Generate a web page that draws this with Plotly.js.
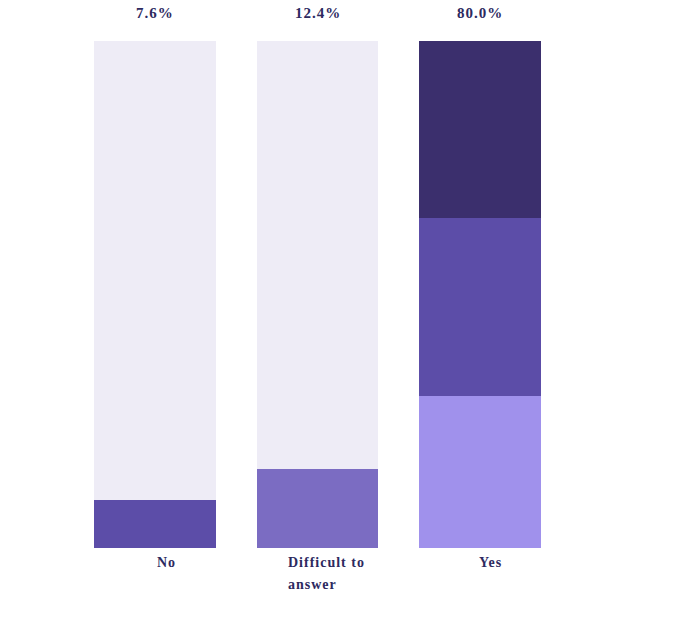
<!DOCTYPE html>
<html>
<head>
<meta charset="utf-8">
<script src="https://cdn.plot.ly/plotly-3.0.1.min.js"></script>
<style>
  html, body { margin: 0; padding: 0; background: #fff; }
  #chart { width: 676px; height: 644px; }
  .annotation-text { letter-spacing: 1px; }
</style>
</head>
<body>
<div id="chart"></div>
<script>
// Data
const categories = ["No", "Difficult to<br>answer", "Yes"];
const totalLabels = ["7.6%", "12.4%", "80.0%"];
const segmentBottom = [7.6, 12.4, 24.0];
const segmentMiddle = [0, 0, 28.0];
const segmentTop = [0, 0, 28.0];
const scaleMax = 80;

const bottomColors = ["#5c4da8", "#7b6cc2", "#a091ec"];
const middleColor = "#5c4da8";
const topColor = "#3b2f6d";
const restColor = "#eeecf6";
const textColor = "#2d2a5f";

const xIdx = categories.map((c, i) => i);
const remainder = segmentBottom.map((v, i) => scaleMax - v - segmentMiddle[i] - segmentTop[i]);

const common = { type: "bar", x: xIdx, width: 0.75, hoverinfo: "skip" };
const traces = [
  Object.assign({}, common, { y: segmentBottom, marker: { color: bottomColors } }),
  Object.assign({}, common, { y: segmentMiddle, marker: { color: middleColor } }),
  Object.assign({}, common, { y: segmentTop, marker: { color: topColor } }),
  Object.assign({}, common, { y: remainder, marker: { color: restColor } })
];

const annotations = [];
totalLabels.forEach((t, i) => {
  annotations.push({
    x: i, xref: "x", y: 1, yref: "paper", yanchor: "middle", yshift: 28,
    text: t, showarrow: false,
    font: { family: "Liberation Serif, Times New Roman, serif", size: 15, weight: 700, color: textColor }
  });
});
categories.forEach((c, i) => {
  const lines = c.split("<br>");
  const multi = lines.length > 1;
  lines.forEach((ln, j) => {
    annotations.push({
      x: i, xref: "x", y: 0, yref: "paper", yanchor: "middle",
      yshift: -14 - 22 * j,
      xanchor: multi ? "left" : "center",
      xshift: multi ? -32 : 11,
      text: ln, showarrow: false,
      font: { family: "Liberation Serif, Times New Roman, serif", size: 14, weight: 700, color: textColor }
    });
  });
});

const layout = {
  width: 676, height: 644,
  margin: { l: 74, r: 115, t: 41, b: 96 },
  barmode: "stack",
  showlegend: false,
  hovermode: false,
  paper_bgcolor: "#ffffff",
  plot_bgcolor: "#ffffff",
  xaxis: { range: [-0.5, 2.5], visible: false, fixedrange: true },
  yaxis: { range: [0, scaleMax], visible: false, fixedrange: true },
  annotations: annotations
};

Plotly.newPlot("chart", traces, layout, { displayModeBar: false, staticPlot: true });
</script>
</body>
</html>
